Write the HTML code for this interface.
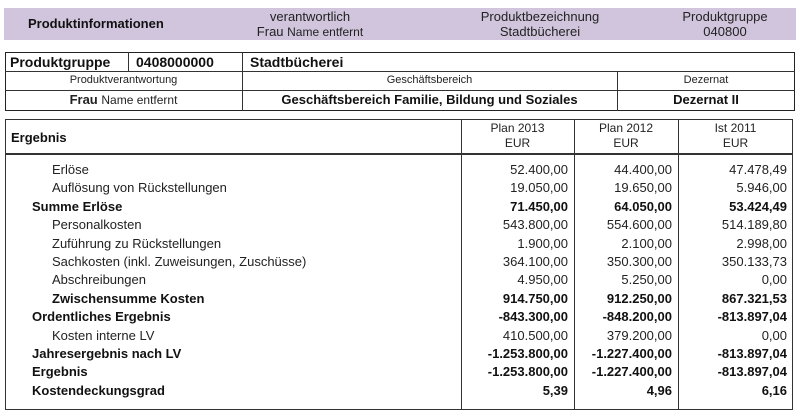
<!DOCTYPE html>
<html><head><meta charset="utf-8"><style>
body{margin:0;width:800px;height:417px;background:#fff;font-family:"Liberation Sans",sans-serif;color:#222;position:relative;overflow:hidden}
div{position:absolute;box-sizing:border-box}
.t{white-space:nowrap;line-height:16px}
.b{font-weight:bold;color:#111}
.c{text-align:center}
.r{text-align:right}
.ln{background:#333}
</style></head><body>
<div style="left:4px;top:8px;width:792px;height:32px;background:#d1c5dd"></div>
<div class="t b" style="left:28px;top:16px;font-size:13px">Produktinformationen</div>
<div class="t c" style="left:230px;top:9px;width:160px;font-size:13px;line-height:15px">verantwortlich<br>Frau <span style="font-size:12px">Name entfernt</span></div>
<div class="t c" style="left:460px;top:9px;width:160px;font-size:13px;line-height:15px">Produktbezeichnung<br>Stadtbücherei</div>
<div class="t c" style="left:670px;top:9px;width:110px;font-size:13px;line-height:15px">Produktgruppe<br>040800</div>

<div style="left:5px;top:52px;width:790px;height:59px;border:1.5px solid #222"></div>
<div class="ln" style="left:5px;top:71px;width:790px;height:1px"></div>
<div class="ln" style="left:5px;top:90px;width:790px;height:1px"></div>
<div class="ln" style="left:128px;top:52px;width:1px;height:19px"></div>
<div class="ln" style="left:242px;top:52px;width:1px;height:59px"></div>
<div class="ln" style="left:617px;top:71px;width:1px;height:40px"></div>
<div class="t b" style="left:10px;top:54px;font-size:14px">Produktgruppe</div>
<div class="t b" style="left:136px;top:54px;font-size:14px">0408000000</div>
<div class="t b" style="left:250px;top:54px;font-size:14px">Stadtbücherei</div>
<div class="t c" style="left:5px;top:73px;width:237px;font-size:11px;line-height:14px">Produktverantwortung</div>
<div class="t c" style="left:242px;top:73px;width:375px;font-size:11px;line-height:14px">Geschäftsbereich</div>
<div class="t c" style="left:617px;top:73px;width:178px;font-size:11px;line-height:14px">Dezernat</div>
<div class="t c" style="left:5px;top:92px;width:237px;font-size:13px"><b>Frau</b> <span style="font-size:12px">Name entfernt</span></div>
<div class="t c b" style="left:242px;top:92px;width:375px;font-size:13px">Geschäftsbereich Familie, Bildung und Soziales</div>
<div class="t c b" style="left:617px;top:92px;width:178px;font-size:13px">Dezernat II</div>

<div style="left:5px;top:119px;width:788px;height:291px;border:1.5px solid #333"></div>
<div class="ln" style="left:5px;top:153px;width:788px;height:1.5px"></div>
<div class="ln" style="left:461px;top:119px;width:1px;height:291px"></div>
<div class="ln" style="left:574px;top:119px;width:1px;height:291px"></div>
<div class="ln" style="left:678px;top:119px;width:1px;height:291px"></div>
<div class="t b" style="left:11px;top:130px;font-size:13px">Ergebnis</div>
<div class="t c" style="left:461px;top:121px;width:113px;font-size:12px;line-height:15px">Plan 2013<br>EUR</div>
<div class="t c" style="left:574px;top:121px;width:104px;font-size:12px;line-height:15px">Plan 2012<br>EUR</div>
<div class="t c" style="left:678px;top:121px;width:115px;font-size:12px;line-height:15px">Ist 2011<br>EUR</div>
<div id="rows"></div>
<script>
const labels=["Erlöse","Auflösung von Rückstellungen","Summe Erlöse","Personalkosten","Zuführung zu Rückstellungen","Sachkosten (inkl. Zuweisungen, Zuschüsse)","Abschreibungen","Zwischensumme Kosten","Ordentliches Ergebnis","Kosten interne LV","Jahresergebnis nach LV","Ergebnis","Kostendeckungsgrad"];
const plan2013=["52.400,00","19.050,00","71.450,00","543.800,00","1.900,00","364.100,00","4.950,00","914.750,00","-843.300,00","410.500,00","-1.253.800,00","-1.253.800,00","5,39"];
const plan2012=["44.400,00","19.650,00","64.050,00","554.600,00","2.100,00","350.300,00","5.250,00","912.250,00","-848.200,00","379.200,00","-1.227.400,00","-1.227.400,00","4,96"];
const ist2011=["47.478,49","5.946,00","53.424,49","514.189,80","2.998,00","350.133,73","0,00","867.321,53","-813.897,04","0,00","-813.897,04","-813.897,04","6,16"];
const bold=[0,0,1,0,0,0,0,1,1,0,1,1,1];
const indent=[1,1,0,1,1,1,1,1,0,1,0,0,0];
const cols=[[plan2013,461,113],[plan2012,574,104],[ist2011,678,115]];
const body=document.body;
labels.forEach((l,i)=>{
  const y=162+i*18.4;
  const d=document.createElement('div');
  
  
  d.className='t'+(bold[i]?' b':'');
  d.style.cssText=`left:${indent[i]?52:32}px;top:${y}px;font-size:13px`;
  d.textContent=l;body.appendChild(d);
  cols.forEach(([arr,x,w])=>{
    const v=document.createElement('div');
    
    
    v.className='t r'+(bold[i]?' b':'');
    v.style.cssText=`left:${x}px;top:${y}px;width:${w-6}px;font-size:13px`;
    v.textContent=arr[i];body.appendChild(v);
  });
});
</script>
</body></html>
